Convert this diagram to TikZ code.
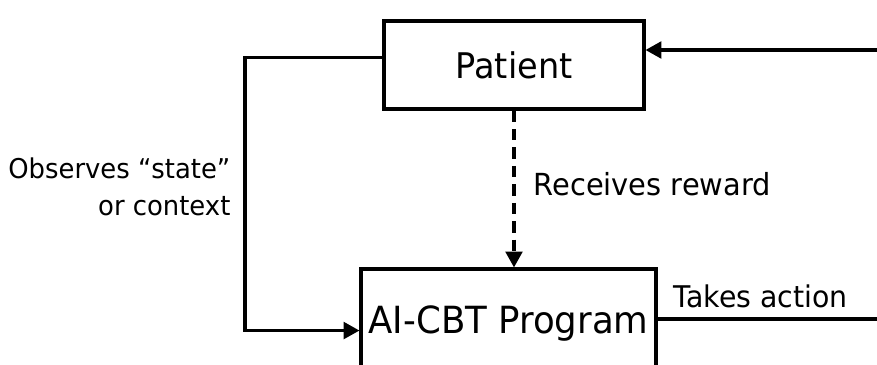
\documentclass[tikz,border=0pt]{standalone}
\usepackage{fontspec}
\setmainfont{DejaVu Sans}[FakeStretch=0.95]
\usetikzlibrary{positioning}
\usetikzlibrary{arrows.meta}

\begin{document}
\begin{tikzpicture}[x=0.02cm, y=-0.02cm, line width=1.8pt,
			block/.style={draw, rectangle, inner sep=0pt, text depth=0pt},
			lbl/.style={inner sep=0pt},
			>={Triangle[length=9pt, width=9.5pt]}]
			\useasboundingbox (0,0) rectangle (877,365);
			\clip (0,0) rectangle (877,365);
			
			\node[block, minimum width=5.2cm, minimum height=1.76cm, font=\fontsize{20.1}{24}\selectfont](patient) at (514, 65) {Patient};
			\node[block, minimum width=5.9cm, minimum height=2.04cm, font=\fontsize{21.3}{24}\selectfont](program) at (508.5, 320) {AI-CBT Program};
			
			\coordinate (env-in) at (880, 50);
			\coordinate (env-out) at (880, 319);
			
			% observe loop on the left
			\draw[->] ([yshift=4.3pt]patient.west) -| (245, 300) |- ([yshift=-6pt]program.west);
			\node[lbl, align=right, anchor=base east, font=\fontsize{15.5}{21}\selectfont](observes) at (232, 215) {Observes “state”\\or context};
			
			% reward
			\draw[->, dash pattern=on 6.5pt off 4pt] (patient.south) -- (patient.south |- program.north);
			\node[lbl, anchor=base west, font=\fontsize{17.3}{20}\selectfont](reward) at (532, 195) {Receives reward};
			
			% action
			\draw (program.east |- env-out) -- (env-out);
			\node[lbl, anchor=base west, font=\fontsize{17}{20}\selectfont](action) at (672, 307) {Takes action};
			\draw[->] (env-in) -- (patient.east |- env-in);
			\end{tikzpicture}
\end{document}
